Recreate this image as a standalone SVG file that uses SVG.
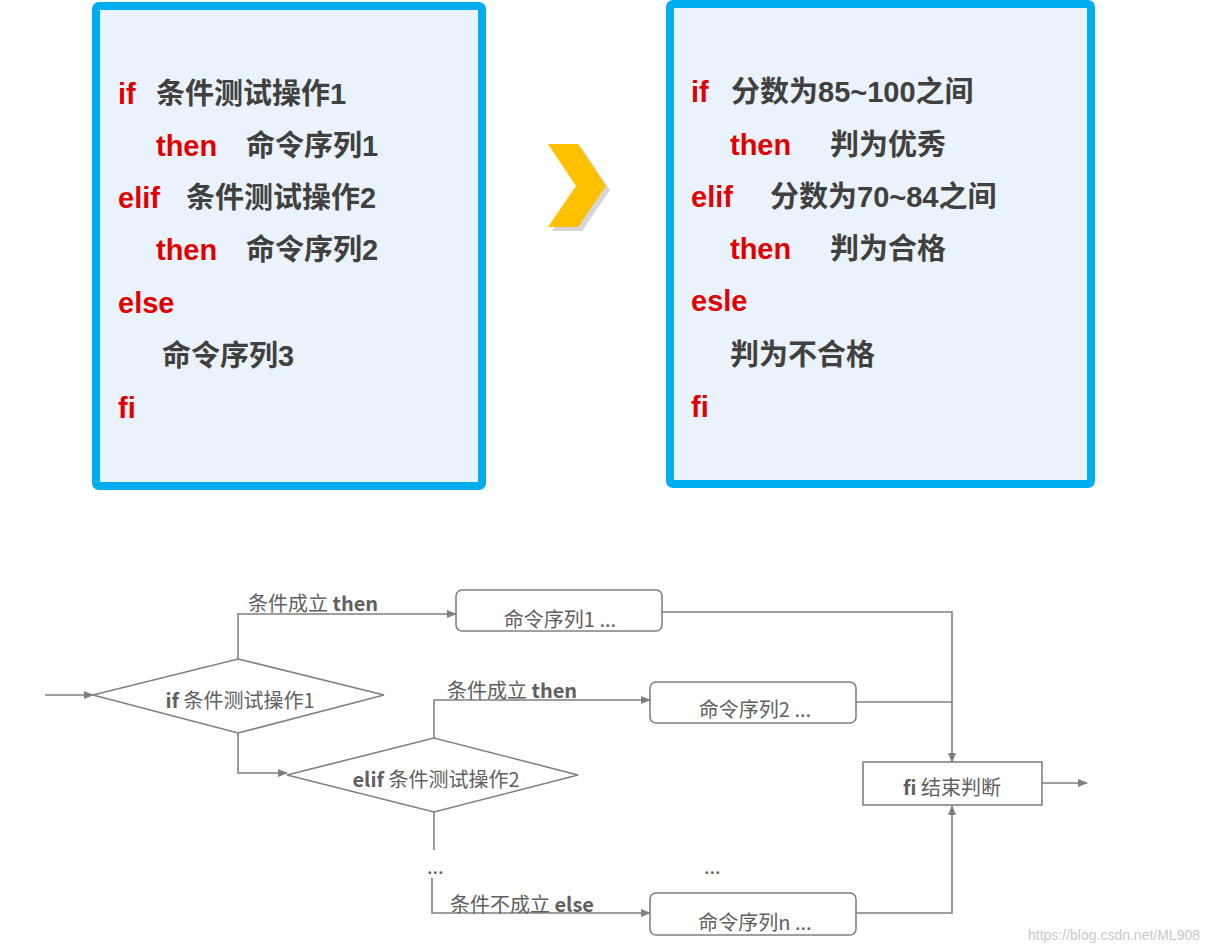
<svg xmlns="http://www.w3.org/2000/svg" width="1231" height="952" viewBox="0 0 1231 952">
<style>
.box{fill:#EAF3FB;stroke:#00AEEF;stroke-width:8}
.k{fill:#E00000;font:bold 29px "Liberation Sans","Noto Sans CJK SC",sans-serif}
.t{fill:#404040;font:bold 29px "Liberation Sans","Noto Sans CJK SC",sans-serif}
.ln{fill:none;stroke:#808080;stroke-width:1.6}
.sh{fill:#fff;stroke:#808080;stroke-width:1.6}
.f{fill:#606060;font:20px "Noto Sans CJK SC","Liberation Sans",sans-serif}
.b{font-weight:bold}
</style>
<defs>
<marker id="a" markerWidth="10" markerHeight="10" refX="9" refY="5" orient="auto" markerUnits="userSpaceOnUse"><path d="M0,1 L10,5 L0,9 Z" fill="#808080"/></marker>
</defs>
<rect width="1231" height="952" fill="#fff"/>
<g id="codebox1">
<rect class="box" x="96" y="6" width="386" height="480" rx="3"/>
<text x="118" y="104" class="k">if</text><text x="156" y="104" class="t">条件测试操作1</text>
<text x="156" y="156" class="k">then</text><text x="246" y="156" class="t">命令序列1</text>
<text x="118" y="208" class="k">elif</text><text x="186" y="208" class="t">条件测试操作2</text>
<text x="156" y="260" class="k">then</text><text x="246" y="260" class="t">命令序列2</text>
<text x="118" y="313" class="k">else</text>
<text x="162" y="366" class="t">命令序列3</text>
<text x="118" y="418" class="k">fi</text>
</g>
<g id="chevron">
<polygon points="552,148 582,148 610,190 582,231 552,231 580,190" fill="#999" opacity="0.4"/>
<polygon points="548,144 578,144 606,186 578,227 548,227 576,186" fill="#FFC000"/>
</g>
<g id="codebox2">
<rect class="box" x="670" y="4" width="421" height="480" rx="3"/>
<text x="691" y="102" class="k">if</text><text x="731" y="102" class="t">分数为85~100之间</text>
<text x="730" y="155" class="k">then</text><text x="830" y="155" class="t">判为优秀</text>
<text x="691" y="207" class="k">elif</text><text x="770" y="207" class="t">分数为70~84之间</text>
<text x="730" y="259" class="k">then</text><text x="830" y="259" class="t">判为合格</text>
<text x="691" y="311" class="k">esle</text>
<text x="730" y="365" class="t">判为不合格</text>
<text x="691" y="417" class="k">fi</text>
</g>
<g id="connectors">
<path class="ln" d="M45,695 H93" marker-end="url(#a)"/>
<path class="ln" d="M238,659 V614 H456" marker-end="url(#a)"/>
<path class="ln" d="M238,733 V773 H287" marker-end="url(#a)"/>
<path class="ln" d="M434,738 V700 H650" marker-end="url(#a)"/>
<path class="ln" d="M434,812 V850"/>
<path class="ln" d="M432,878 V913 H650" marker-end="url(#a)"/>
<path class="ln" d="M662,612 H952 V762" marker-end="url(#a)"/>
<path class="ln" d="M856,702 H952"/>
<path class="ln" d="M856,913 H952 V806" marker-end="url(#a)"/>
<path class="ln" d="M1042,783 H1087" marker-end="url(#a)"/>
<text x="248" y="611" class="f">条件成立 <tspan class="b">then</tspan></text>
<text x="447" y="698" class="f">条件成立 <tspan class="b">then</tspan></text>
<text x="450" y="912" class="f">条件不成立 <tspan class="b">else</tspan></text>
<text x="427" y="874" class="f">...</text>
<text x="704" y="874" class="f">...</text>
</g>
<g id="cond1"><polygon class="sh" points="93,695 238,659 384,695 238,733"/><text x="240" y="708" class="f" text-anchor="middle"><tspan class="b">if</tspan>  条件测试操作1</text></g>
<g id="cond2"><polygon class="sh" points="287,775 434,738 578,775 434,812"/><text x="436" y="787" class="f" text-anchor="middle"><tspan class="b">elif</tspan>  条件测试操作2</text></g>
<g id="cmd1"><rect class="sh" x="456" y="590" width="206" height="41" rx="6"/><text x="560" y="627" class="f" text-anchor="middle">命令序列1 ...</text></g>
<g id="cmd2"><rect class="sh" x="650" y="682" width="206" height="41" rx="6"/><text x="755" y="717" class="f" text-anchor="middle">命令序列2 ...</text></g>
<g id="cmdn"><rect class="sh" x="650" y="893" width="206" height="42" rx="6"/><text x="755" y="930" class="f" text-anchor="middle">命令序列n ...</text></g>
<g id="fi"><rect class="sh" x="863" y="762" width="179" height="43"/><text x="952" y="795" class="f" text-anchor="middle"><tspan class="b">fi</tspan>  结束判断</text></g>
<text x="1028" y="940" fill="#c8c8c8" font-family="Liberation Sans,sans-serif" font-size="14">https://blog.csdn.net/ML908</text>
</svg>
